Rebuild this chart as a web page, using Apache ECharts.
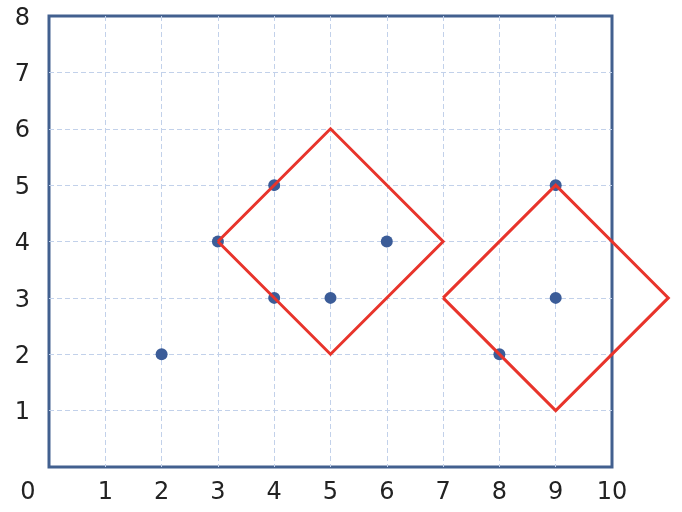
<!DOCTYPE html>
<html><head><meta charset="utf-8">
<script src="https://cdn.jsdelivr.net/npm/echarts@6/dist/echarts.min.js"></script>
<style>html,body{margin:0;padding:0;background:#fff}#c{width:682px;height:512px}</style>
</head><body><div id="c"></div>
<script>
const xTicks = [0,1,2,3,4,5,6,7,8,9,10];
const yTicks = [0,1,2,3,4,5,6,7,8];
const pointsX = [2,3,4,4,5,6,8,9,9];
const pointsY = [2,4,5,3,3,4,2,5,3];
const diamond1X = [3,5,7,5,3];
const diamond1Y = [4,6,4,2,4];
const diamond2X = [7,9,11,9,7];
const diamond2Y = [3,5,3,1,3];

const chart = echarts.init(document.getElementById('c'));
const zip = (a,b)=>a.map((v,i)=>[v,b[i]]);
const shapes = [zip(diamond1X,diamond1Y), zip(diamond2X,diamond2Y)];
const split = {show:true, showMinLine:false, showMaxLine:false, lineStyle:{color:'#c2d1ea', width:1, type:[5,3]}};
chart.setOption({
  animation:false,
  grid:{left:49, top:16, right:70, bottom:45, show:true, borderColor:'#42608f', borderWidth:3, backgroundColor:'transparent'},
  xAxis:{type:'value', min:xTicks[0], max:xTicks[xTicks.length-1], interval:1,
    axisLine:{show:false}, axisTick:{show:false}, splitLine:split,
    axisLabel:{color:'#222', fontSize:24, fontFamily:'DejaVu Sans', margin:14,
      formatter:v=> v===0 ? '{z|0}' : String(v),
      rich:{z:{color:'#222', fontSize:24, fontFamily:'DejaVu Sans', padding:[0,42,0,0]}}}},
  yAxis:{type:'value', min:yTicks[0], max:yTicks[yTicks.length-1], interval:1,
    axisLine:{show:false}, axisTick:{show:false}, splitLine:split,
    axisLabel:{color:'#222', fontSize:24, fontFamily:'DejaVu Sans', margin:19, showMinLabel:false,
      formatter:v=>'{a|'+v+'}', rich:{a:{color:'#222', fontSize:24, fontFamily:'DejaVu Sans', padding:[5,0,0,0]}}}},
  series:[
    {type:'scatter', data:zip(pointsX,pointsY), symbolSize:12, itemStyle:{color:'#3b5c98', opacity:1}, z:2},
    {type:'custom', clip:false, z:3, data:[0,1],
      renderItem:(params, api)=>{
        const pts = shapes[params.dataIndex].map(p=>api.coord(p));
        return {type:'polyline', shape:{points:pts}, style:{stroke:'#e8342b', lineWidth:3, fill:null, lineJoin:'miter'}};
      }}
  ]
});
</script></body></html>
